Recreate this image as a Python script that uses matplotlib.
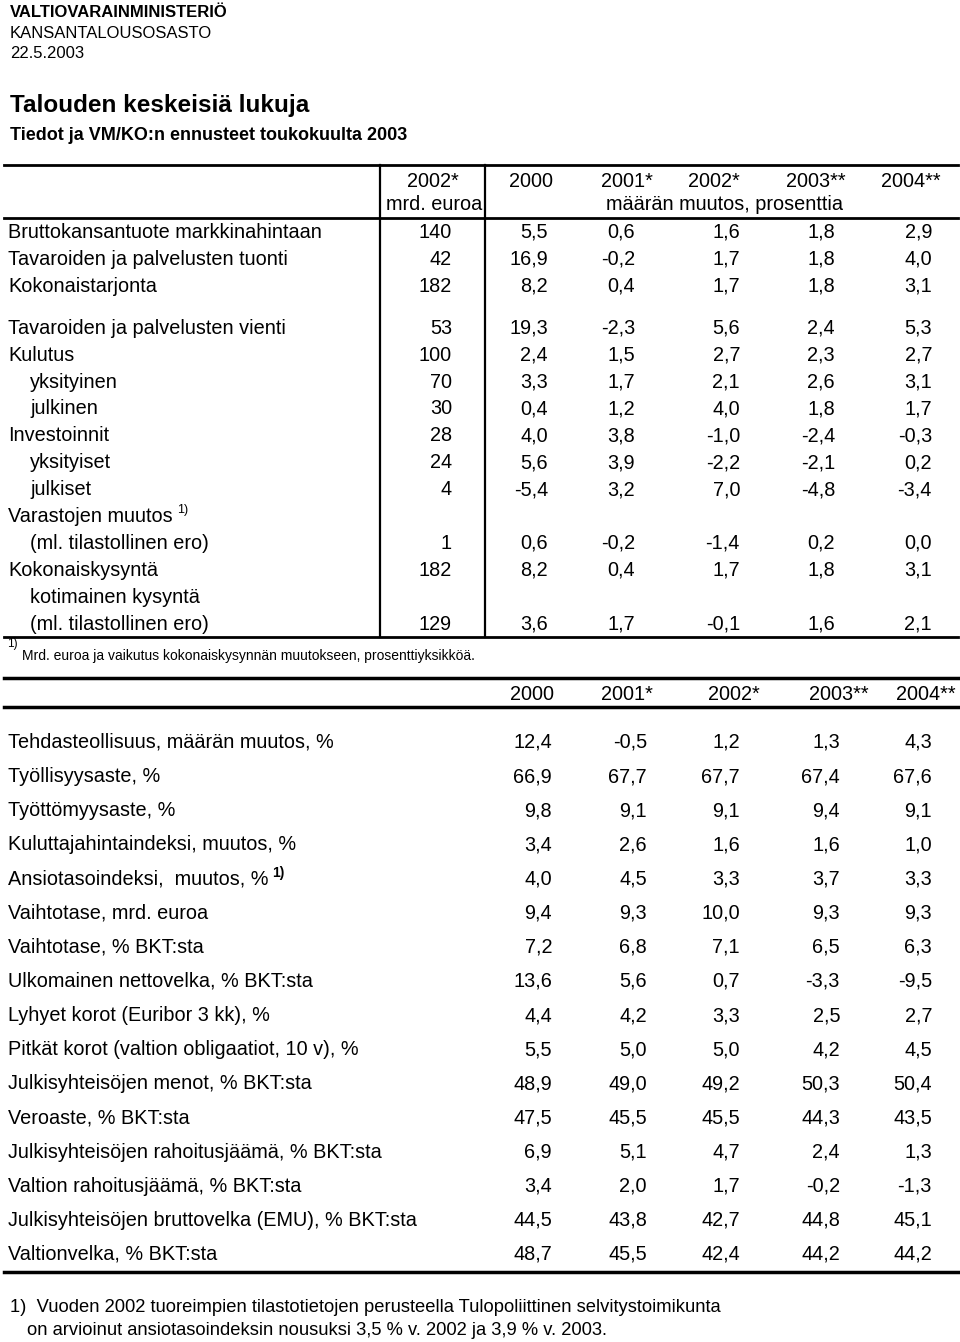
import matplotlib
matplotlib.use("Agg")
import matplotlib.pyplot as plt

plt.rcParams['font.family'] = ['Liberation Sans', 'DejaVu Sans']

# --- data: upper table ---
years = ["2000", "2001*", "2002*", "2003**", "2004**"]
labels1 = ["Bruttokansantuote markkinahintaan", "Tavaroiden ja palvelusten tuonti",
           "Kokonaistarjonta", "Tavaroiden ja palvelusten vienti", "Kulutus",
           "yksityinen", "julkinen", "Investoinnit", "yksityiset", "julkiset",
           "Varastojen muutos", "(ml. tilastollinen ero)", "Kokonaiskysyntä",
           "kotimainen kysyntä", "(ml. tilastollinen ero)"]
indent1 = [0, 0, 0, 0, 0, 1, 1, 0, 1, 1, 0, 1, 0, 1, 1]
mrd2002 = [140, 42, 182, 53, 100, 70, 30, 28, 24, 4, None, 1, 182, None, 129]
chg2000 = [5.5, 16.9, 8.2, 19.3, 2.4, 3.3, 0.4, 4.0, 5.6, -5.4, None, 0.6, 8.2, None, 3.6]
chg2001 = [0.6, -0.2, 0.4, -2.3, 1.5, 1.7, 1.2, 3.8, 3.9, 3.2, None, -0.2, 0.4, None, 1.7]
chg2002 = [1.6, 1.7, 1.7, 5.6, 2.7, 2.1, 4.0, -1.0, -2.2, 7.0, None, -1.4, 1.7, None, -0.1]
chg2003 = [1.8, 1.8, 1.8, 2.4, 2.3, 2.6, 1.8, -2.4, -2.1, -4.8, None, 0.2, 1.8, None, 1.6]
chg2004 = [2.9, 4.0, 3.1, 5.3, 2.7, 3.1, 1.7, -0.3, 0.2, -3.4, None, 0.0, 3.1, None, 2.1]

# --- data: lower table ---
labels2 = ["Tehdasteollisuus, määrän muutos, %", "Työllisyysaste, %", "Työttömyysaste, %",
           "Kuluttajahintaindeksi, muutos, %", "Ansiotasoindeksi,  muutos, %",
           "Vaihtotase, mrd. euroa", "Vaihtotase, % BKT:sta", "Ulkomainen nettovelka, % BKT:sta",
           "Lyhyet korot (Euribor 3 kk), %", "Pitkät korot (valtion obligaatiot, 10 v), %",
           "Julkisyhteisöjen menot, % BKT:sta", "Veroaste, % BKT:sta",
           "Julkisyhteisöjen rahoitusjäämä, % BKT:sta", "Valtion rahoitusjäämä, % BKT:sta",
           "Julkisyhteisöjen bruttovelka (EMU), % BKT:sta", "Valtionvelka, % BKT:sta"]
v2000 = [12.4, 66.9, 9.8, 3.4, 4.0, 9.4, 7.2, 13.6, 4.4, 5.5, 48.9, 47.5, 6.9, 3.4, 44.5, 48.7]
v2001 = [-0.5, 67.7, 9.1, 2.6, 4.5, 9.3, 6.8, 5.6, 4.2, 5.0, 49.0, 45.5, 5.1, 2.0, 43.8, 45.5]
v2002 = [1.2, 67.7, 9.1, 1.6, 3.3, 10.0, 7.1, 0.7, 3.3, 5.0, 49.2, 45.5, 4.7, 1.7, 42.7, 42.4]
v2003 = [1.3, 67.4, 9.4, 1.6, 3.7, 9.3, 6.5, -3.3, 2.5, 4.2, 50.3, 44.3, 2.4, -0.2, 44.8, 44.2]
v2004 = [4.3, 67.6, 9.1, 1.0, 3.3, 9.3, 6.3, -9.5, 2.7, 4.5, 50.4, 43.5, 1.3, -1.3, 45.1, 44.2]


def fmt(v):
    return f"{v:.1f}".replace(".", ",")


FS = 14.3
fig = plt.figure(figsize=(9.6, 13.42), dpi=100)
ax = fig.add_axes([0, 0, 1, 1])
ax.set_xlim(0, 960)
ax.set_ylim(1342, 0)
ax.axis("off")
r = fig.canvas.get_renderer()


def sup(t, s, dy, size, weight="normal"):
    # superscript placed just right of an existing text
    bb = t.get_window_extent(renderer=r)
    x = ax.transData.inverted().transform((bb.x1, bb.y0))[0]
    ax.text(x + 4, t.get_position()[1] - dy, s, fontsize=size, weight=weight,
            ha="left", va="baseline")


# header
ax.text(10, 17, "VALTIOVARAINMINISTERIÖ", fontsize=12, weight="bold", va="baseline")
ax.text(10, 38, "KANSANTALOUSOSASTO", fontsize=12, va="baseline")
ax.text(10, 58, "22.5.2003", fontsize=12, va="baseline")
ax.text(10, 112, "Talouden keskeisiä lukuja", fontsize=17.5, weight="bold", va="baseline")
ax.text(10, 140, "Tiedot ja VM/KO:n ennusteet toukokuulta 2003", fontsize=13,
        weight="bold", va="baseline")

# --- upper table ---
top1, head1, bot1 = 165, 218, 637
ax.plot([4, 958], [top1, top1], color="black", lw=2)
ax.plot([4, 958], [head1, head1], color="black", lw=2)
ax.plot([4, 958], [bot1, bot1], color="black", lw=2)
for xv in [380, 485]:
    ax.plot([xv, xv], [top1, bot1], color="black", lw=1.6)

ax.text(433, 187, "2002*", fontsize=FS, ha="center", va="baseline")
ax.text(434, 210, "mrd. euroa", fontsize=FS, ha="center", va="baseline")
hcent1 = [531, 627, 714, 816, 911]
right1 = [548, 635, 740, 835, 932]
for xc, yl in zip(hcent1, years):
    ax.text(xc, 187, yl, fontsize=FS, ha="center", va="baseline")
ax.text(724, 210, "määrän muutos, prosenttia", fontsize=FS, ha="center", va="baseline")

cols1 = [chg2000, chg2001, chg2002, chg2003, chg2004]
for i, lab in enumerate(labels1):
    yb = 238 + 26.9 * i + (15 if i >= 3 else 0)
    t = ax.text(8 + 22 * indent1[i], yb, lab, fontsize=FS, va="baseline")
    if lab == "Varastojen muutos":
        sup(t, "1)", 9, 9)
    if mrd2002[i] is not None:
        ax.text(452, yb, str(mrd2002[i]), fontsize=FS, ha="right", va="baseline")
    for xr, col in zip(right1, cols1):
        if col[i] is not None:
            ax.text(xr, yb, fmt(col[i]), fontsize=FS, ha="right", va="baseline")

ax.text(7, 647, "1)", fontsize=8.5, va="baseline")
ax.text(22, 660, "Mrd. euroa ja vaikutus kokonaiskysynnän muutokseen, prosenttiyksikköä.",
        fontsize=10, va="baseline")

# --- lower table ---
top2, head2, bot2 = 678, 707, 1272
ax.plot([4, 958], [top2, top2], color="black", lw=2.5)
ax.plot([4, 958], [head2, head2], color="black", lw=2.5)
ax.plot([4, 958], [bot2, bot2], color="black", lw=2.5)
hcent2 = [532, 627, 734, 839, 926]
right2 = [552, 647, 740, 840, 932]
for xc, yl in zip(hcent2, years):
    ax.text(xc, 700, yl, fontsize=FS, ha="center", va="baseline")

cols2 = [v2000, v2001, v2002, v2003, v2004]
for i, lab in enumerate(labels2):
    yb = 748 + 34.13 * i
    t = ax.text(8, yb, lab, fontsize=FS, va="baseline")
    if lab.startswith("Ansiotasoindeksi"):
        sup(t, "1)", 8, 10, weight="bold")
    for xr, col in zip(right2, cols2):
        ax.text(xr, yb, fmt(col[i]), fontsize=FS, ha="right", va="baseline")

ax.text(10, 1312, "1)  Vuoden 2002 tuoreimpien tilastotietojen perusteella Tulopoliittinen selvitystoimikunta",
        fontsize=13.2, va="baseline")
ax.text(27, 1335, "on arvioinut ansiotasoindeksin nousuksi 3,5 % v. 2002 ja 3,9 % v. 2003.",
        fontsize=13.2, va="baseline")

fig.savefig("out.png", dpi=100)
